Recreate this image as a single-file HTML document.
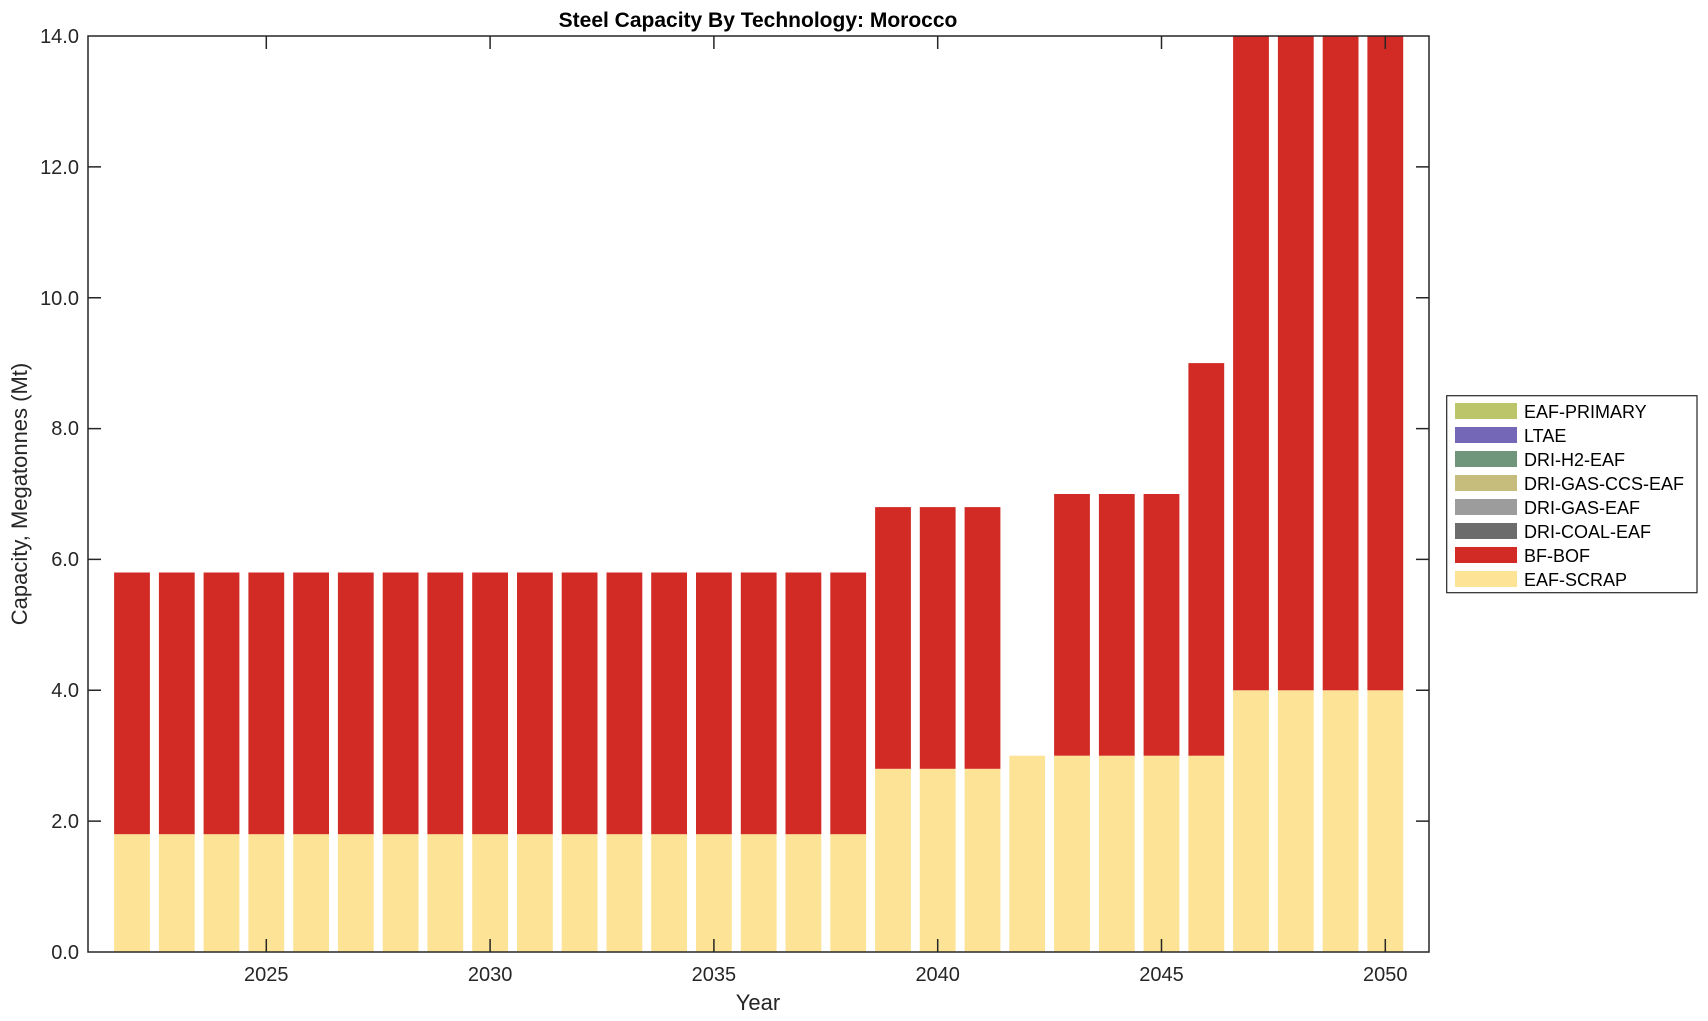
<!DOCTYPE html>
<html><head><meta charset="utf-8"><style>body{margin:0;background:#fff}svg{display:block}text{font-family:"Liberation Sans",Arial,sans-serif;fill:#262626}</style></head>
<body>
<svg width="1708" height="1021" viewBox="0 0 1708 1021" xmlns="http://www.w3.org/2000/svg">
<rect width="1708" height="1021" fill="#fff"/>
<g fill="#fde395">
<rect x="114.1" y="834.2" width="35.8" height="117.8"/><rect x="158.9" y="834.2" width="35.8" height="117.8"/><rect x="203.6" y="834.2" width="35.8" height="117.8"/><rect x="248.4" y="834.2" width="35.8" height="117.8"/><rect x="293.2" y="834.2" width="35.8" height="117.8"/><rect x="337.9" y="834.2" width="35.8" height="117.8"/><rect x="382.7" y="834.2" width="35.8" height="117.8"/><rect x="427.4" y="834.2" width="35.8" height="117.8"/><rect x="472.2" y="834.2" width="35.8" height="117.8"/><rect x="517.0" y="834.2" width="35.8" height="117.8"/><rect x="561.7" y="834.2" width="35.8" height="117.8"/><rect x="606.5" y="834.2" width="35.8" height="117.8"/><rect x="651.2" y="834.2" width="35.8" height="117.8"/><rect x="696.0" y="834.2" width="35.8" height="117.8"/><rect x="740.8" y="834.2" width="35.8" height="117.8"/><rect x="785.5" y="834.2" width="35.8" height="117.8"/><rect x="830.3" y="834.2" width="35.8" height="117.8"/>
<rect x="875.1" y="768.8" width="35.8" height="183.2"/><rect x="919.8" y="768.8" width="35.8" height="183.2"/><rect x="964.6" y="768.8" width="35.8" height="183.2"/>
<rect x="1009.3" y="755.7" width="35.8" height="196.3"/><rect x="1054.1" y="755.7" width="35.8" height="196.3"/><rect x="1098.9" y="755.7" width="35.8" height="196.3"/><rect x="1143.6" y="755.7" width="35.8" height="196.3"/><rect x="1188.4" y="755.7" width="35.8" height="196.3"/>
<rect x="1233.1" y="690.3" width="35.8" height="261.7"/><rect x="1277.9" y="690.3" width="35.8" height="261.7"/><rect x="1322.7" y="690.3" width="35.8" height="261.7"/><rect x="1367.4" y="690.3" width="35.8" height="261.7"/>
</g>
<g fill="#d22b25">
<rect x="114.1" y="572.5" width="35.8" height="261.7"/><rect x="158.9" y="572.5" width="35.8" height="261.7"/><rect x="203.6" y="572.5" width="35.8" height="261.7"/><rect x="248.4" y="572.5" width="35.8" height="261.7"/><rect x="293.2" y="572.5" width="35.8" height="261.7"/><rect x="337.9" y="572.5" width="35.8" height="261.7"/><rect x="382.7" y="572.5" width="35.8" height="261.7"/><rect x="427.4" y="572.5" width="35.8" height="261.7"/><rect x="472.2" y="572.5" width="35.8" height="261.7"/><rect x="517.0" y="572.5" width="35.8" height="261.7"/><rect x="561.7" y="572.5" width="35.8" height="261.7"/><rect x="606.5" y="572.5" width="35.8" height="261.7"/><rect x="651.2" y="572.5" width="35.8" height="261.7"/><rect x="696.0" y="572.5" width="35.8" height="261.7"/><rect x="740.8" y="572.5" width="35.8" height="261.7"/><rect x="785.5" y="572.5" width="35.8" height="261.7"/><rect x="830.3" y="572.5" width="35.8" height="261.7"/>
<rect x="875.1" y="507.1" width="35.8" height="261.7"/><rect x="919.8" y="507.1" width="35.8" height="261.7"/><rect x="964.6" y="507.1" width="35.8" height="261.7"/>
<rect x="1054.1" y="494.0" width="35.8" height="261.7"/><rect x="1098.9" y="494.0" width="35.8" height="261.7"/><rect x="1143.6" y="494.0" width="35.8" height="261.7"/>
<rect x="1188.4" y="363.1" width="35.8" height="392.6"/>
<rect x="1233.1" y="36" width="35.8" height="654.3"/><rect x="1277.9" y="36" width="35.8" height="654.3"/><rect x="1322.7" y="36" width="35.8" height="654.3"/><rect x="1367.4" y="36" width="35.8" height="654.3"/>
</g>
<g stroke="#262626" stroke-width="1.5" fill="none">
<rect x="88" y="36" width="1341" height="916"/>
<path d="M88 821.1h13M88 690.3h13M88 559.4h13M88 428.6h13M88 297.7h13M88 166.9h13M1429 821.1h-13M1429 690.3h-13M1429 559.4h-13M1429 428.6h-13M1429 297.7h-13M1429 166.9h-13"/>
<path d="M266.3 952v-13M490.1 952v-13M713.9 952v-13M937.7 952v-13M1161.5 952v-13M1385.3 952v-13M266.3 36v13M490.1 36v13M713.9 36v13M937.7 36v13M1161.5 36v13M1385.3 36v13"/>
</g>
<g font-size="20" text-anchor="end">
<text x="79" y="959">0.0</text><text x="79" y="828">2.0</text><text x="79" y="697">4.0</text><text x="79" y="566">6.0</text><text x="79" y="435">8.0</text><text x="79" y="305">10.0</text><text x="79" y="174">12.0</text><text x="79" y="43">14.0</text>
</g>
<g font-size="20" text-anchor="middle">
<text x="266.3" y="981">2025</text><text x="490.1" y="981">2030</text><text x="713.9" y="981">2035</text><text x="937.7" y="981">2040</text><text x="1161.5" y="981">2045</text><text x="1385.3" y="981">2050</text>
</g>
<text x="758" y="1010" font-size="22" text-anchor="middle">Year</text>
<text transform="translate(27 494) rotate(-90)" font-size="22" text-anchor="middle">Capacity, Megatonnes (Mt)</text>
<text x="758" y="27" font-size="21" font-weight="bold" text-anchor="middle" style="fill:#000">Steel Capacity By Technology: Morocco</text>
<rect x="1446.7" y="395.7" width="250.3" height="197" fill="#fff" stroke="#262626" stroke-width="1.2"/>
<g>
<rect x="1455" y="403" width="62" height="16" fill="#bcc56a"/>
<rect x="1455" y="427" width="62" height="16" fill="#7567b8"/>
<rect x="1455" y="451" width="62" height="16" fill="#6f957a"/>
<rect x="1455" y="475" width="62" height="16" fill="#c6bc7c"/>
<rect x="1455" y="499" width="62" height="16" fill="#9c9c9c"/>
<rect x="1455" y="523" width="62" height="16" fill="#6c6c6c"/>
<rect x="1455" y="547" width="62" height="16" fill="#d22b25"/>
<rect x="1455" y="571" width="62" height="16" fill="#fde395"/>
</g>
<g font-size="18">
<text x="1524" y="418" style="fill:#000">EAF-PRIMARY</text>
<text x="1524" y="442" style="fill:#000">LTAE</text>
<text x="1524" y="466" style="fill:#000">DRI-H2-EAF</text>
<text x="1524" y="490" style="fill:#000">DRI-GAS-CCS-EAF</text>
<text x="1524" y="514" style="fill:#000">DRI-GAS-EAF</text>
<text x="1524" y="538" style="fill:#000">DRI-COAL-EAF</text>
<text x="1524" y="562" style="fill:#000">BF-BOF</text>
<text x="1524" y="586" style="fill:#000">EAF-SCRAP</text>
</g>
</svg>
</body></html>
